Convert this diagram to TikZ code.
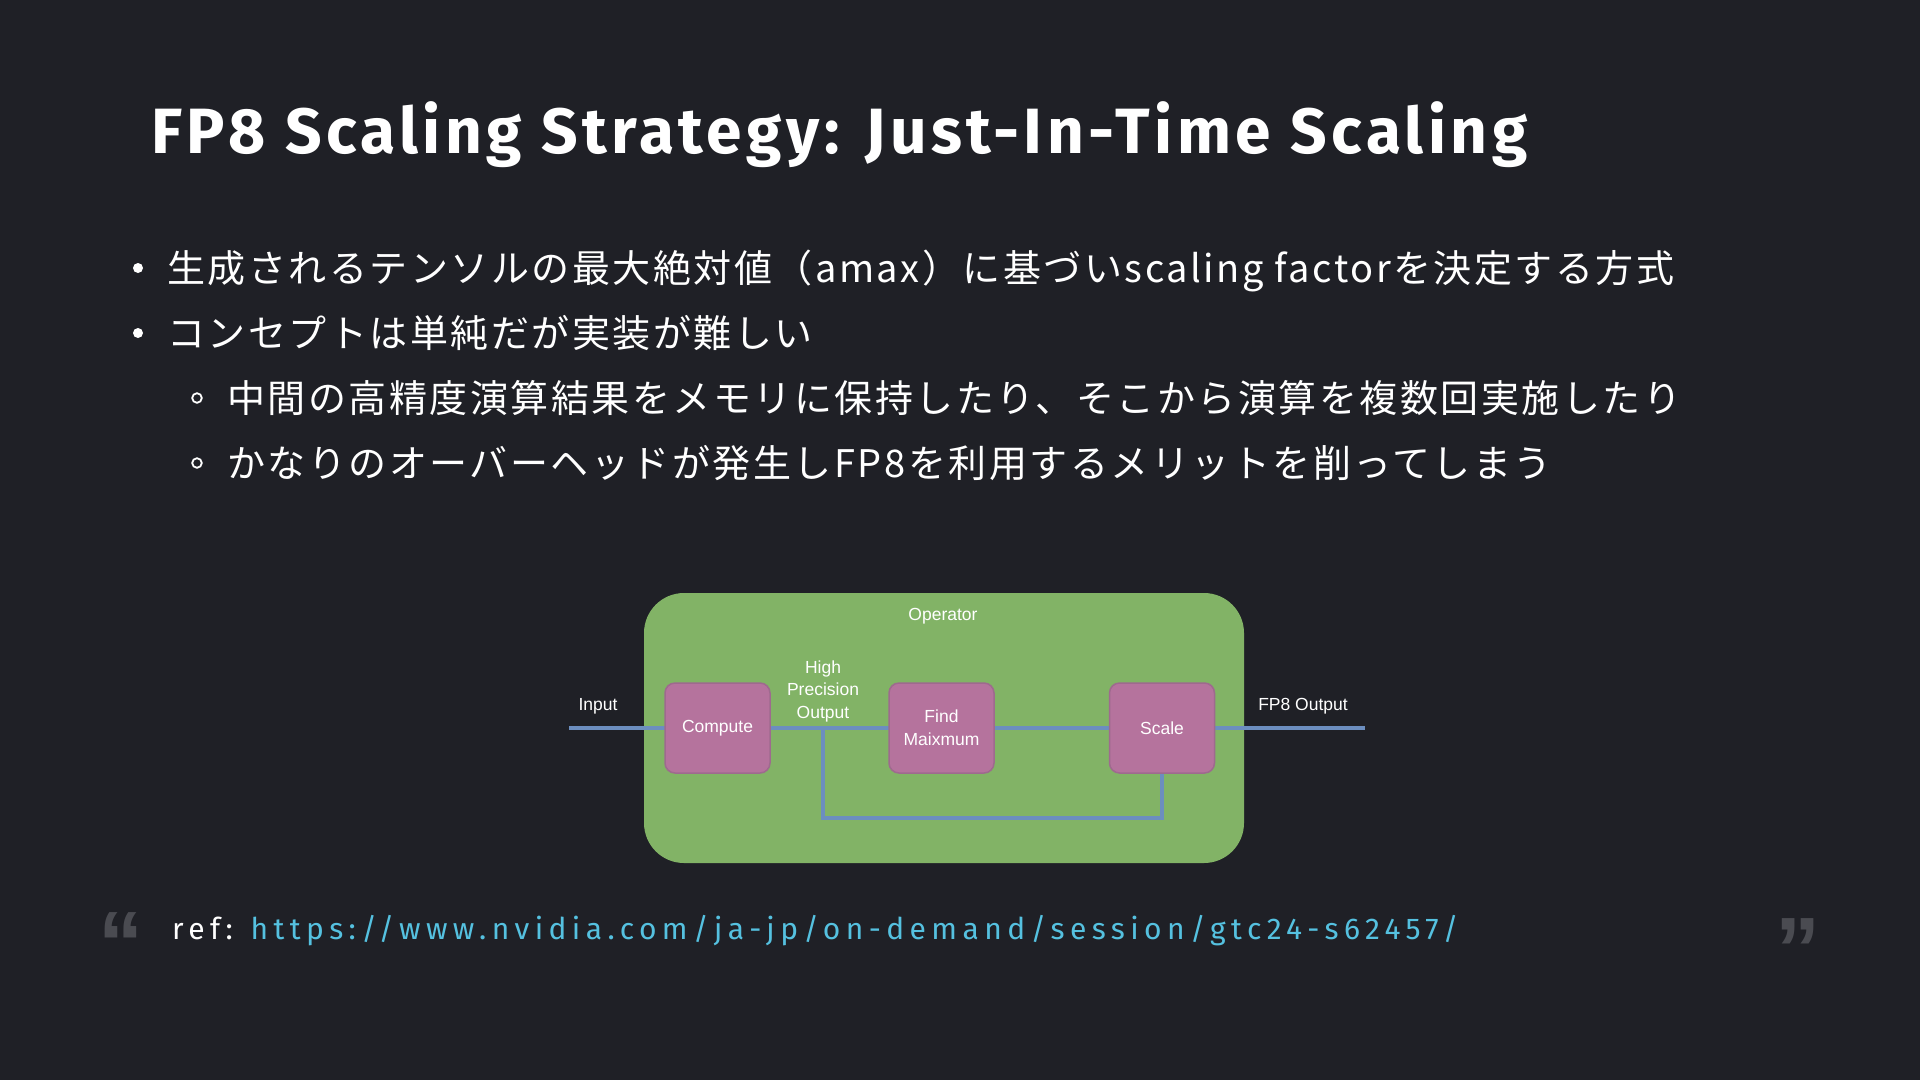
\documentclass[tikz,border=0pt]{standalone}
\usepackage{fontspec}
\setmainfont{Fira Sans}
\newfontfamily\jpfont[LetterSpace=6.6]{Noto Sans CJK JP}
\newfontfamily\titlefont[LetterSpace=6.9]{Fira Sans}
\newfontfamily\diafont{Liberation Sans}
\newfontfamily\reffont[LetterSpace=18]{Fira Sans}
\newfontfamily\quotefont{Liberation Sans}
\definecolor{bg}{HTML}{1F2026}
\definecolor{opgreen}{HTML}{82B366}
\definecolor{boxpurple}{HTML}{B5739D}
\definecolor{boxborder}{HTML}{9E6A8E}
\definecolor{flowblue}{HTML}{6C8EBF}
\definecolor{linkcol}{HTML}{55C1E0}
\definecolor{quotecol}{HTML}{4A4B51}
\tikzset{
  titletext/.style={anchor=base west, inner sep=0pt, text=white, font=\titlefont\bfseries\fontsize{64}{70}\selectfont},
  bullettext/.style={anchor=base west, inner sep=0pt, text=white, font=\jpfont\fontsize{38}{46}\selectfont},
  opbox/.style={draw=none, fill=opgreen, rounded corners=40pt, minimum width=600pt, minimum height=270pt, inner sep=0pt},
  stepbox/.style={draw=boxborder, line width=1.5pt, fill=boxpurple, rounded corners=10pt, minimum width=105pt, minimum height=90pt, inner sep=0pt, text=white, align=center, font=\diafont\fontsize{17.5}{23}\selectfont},
  dialabel/.style={inner sep=0pt, text=white, align=center, font=\diafont\fontsize{17.5}{22.5}\selectfont},
  flow/.style={draw=flowblue, line width=4pt},
  reftext/.style={anchor=base west, inner sep=0pt, font=\reffont\fontsize{30}{36}\selectfont},
  quotemark/.style={inner sep=0pt, text=quotecol, font=\quotefont\bfseries\fontsize{90}{90}\selectfont},
}
\begin{document}
\begin{tikzpicture}[x=1pt, y=-1pt]
\fill[bg] (0,0) rectangle (1920,1080);
\useasboundingbox (0,0) rectangle (1920,1080);

% title
\node[titletext] (title) at (151,153) {FP8 Scaling Strategy: Just-In-Time Scaling};

% bullets
\fill[white] (138,268) circle[radius=5pt];
\node[bullettext] (b1) at (167,282) {生成されるテンソルの最大絶対値（amax）に基づいscaling factorを決定する方式};
\fill[white] (138,333) circle[radius=5pt];
\node[bullettext] (b2) at (167,347) {コンセプトは単純だが実装が難しい};
\draw[white, line width=1.8pt] (197,398) circle[radius=4.8pt];
\node[bullettext] (b3) at (227,412) {中間の高精度演算結果をメモリに保持したり、そこから演算を複数回実施したり};
\draw[white, line width=1.8pt] (197,463) circle[radius=4.8pt];
\node[bullettext] (b4) at (227,477) {かなりのオーバーヘッドが発生しFP8を利用するメリットを削ってしまう};

% diagram
\node[opbox] (op) at (944,728) {};
\node[dialabel] (oplabel) at (943,616) {Operator};
\coordinate (in) at (569,728);
\coordinate (out) at (1365,728);
\coordinate (split) at (823,728);
\coordinate (fb) at (0,818);
\draw[flow] (in) -- (out);
\draw[flow] (split) -- (split |- fb) -| (1162,773);
\node[stepbox] (compute) at (717.5,728) {Compute};
\node[stepbox] (find) at (941.5,728) {Find\\Maixmum};
\node[stepbox] (scale) at (1162,728) {Scale};
\node[dialabel] (inlabel) at (598,706) {Input};
\node[dialabel] (hplabel) at (823,691) {High\\Precision\\Output};
\node[dialabel] (outlabel) at (1303,706) {FP8 Output};

% reference
\node[quotemark] (lq) at (121,944) {“};
\node[quotemark] (rq) at (1798,950) {”};
\node[reftext] (ref) at (172,939) {\textcolor{white}{ref: }\textcolor{linkcol}{https://www.nvidia.com/ja-jp/on-demand/session/gtc24-s62457/}};
\end{tikzpicture}
\end{document}
